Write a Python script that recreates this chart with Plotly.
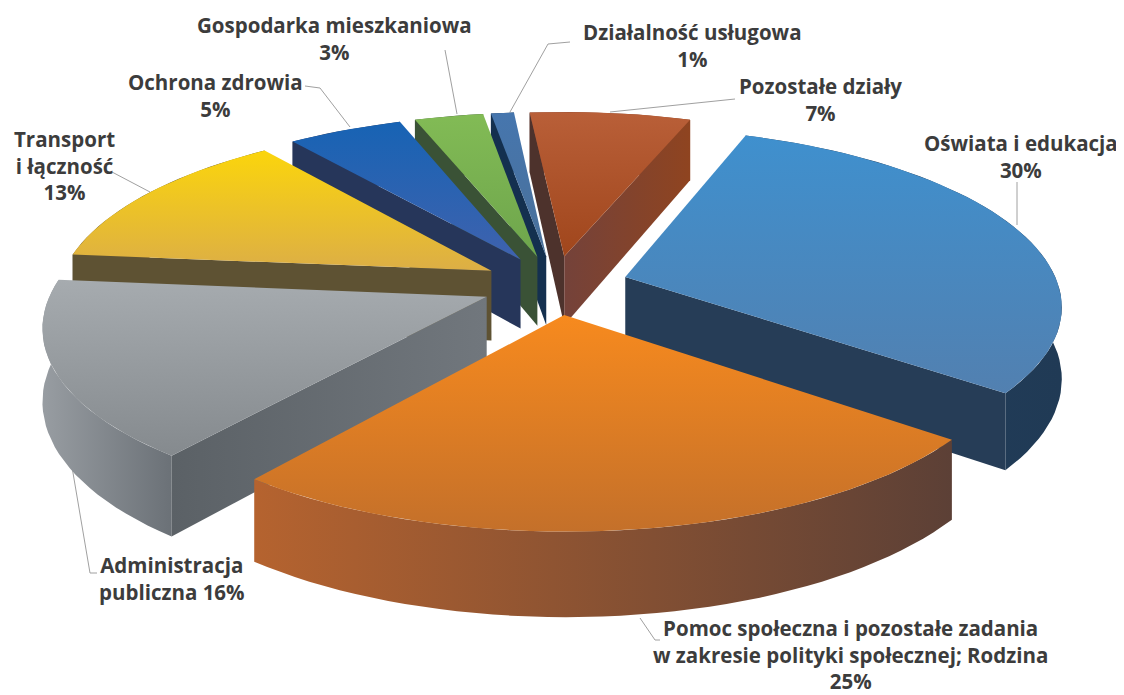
import math
import plotly.graph_objects as go

categories = ["Oświata i edukacja", "Pomoc społeczna i pozostałe zadania w zakresie polityki społecznej; Rodzina",
              "Administracja publiczna", "Transport i łączność",
              "Ochrona zdrowia", "Gospodarka mieszkaniowa", "Działalność usługowa", "Pozostałe działy"]
values = [30, 25, 16, 13, 5, 3, 1, 7]

# View of the pie: start angle, slice offset, thickness and projection
START = 20.0
PULL = 0.17
H = 0.17
CX, CY = 555, 285
BX, AY, CZ, KD = 433, 174, 415, 0.15

# Colours: top face (far -> near), outer wall (left -> right), first cut, second cut
top_c = [("#3f90ce", "#5280b0"), ("#f78a1e", "#c4702a"), ("#a6abaf", "#858a8e"), ("#fbd50c", "#dcae46"),
         ("#1763b4", "#3f62ae"), ("#82bb55", "#6ea54c"), ("#4676ae", "#4a7099"), ("#b95f38", "#a0461c")]
wall_c = [("#23405e", "#203a55"), ("#b5632f", "#5c4036"), ("#989da2", "#6b7177"), ("#5e5233", "#5e5233"),
          ("#26365a", "#26365a"), ("#3a5236", "#3a5236"), ("#14304f", "#14304f"), ("#74423a", "#8f4420")]
cut_a = ["#1f3a55", "#6a4a3a", ("#5b6166", "#71777d"), "#5e5233", "#26365a", "#3a5236", "#14304f", "#4d322c"]
cut_b = ["#263d57", "#c46a20", "#8a8f94", "#6a5a30", "#2a3f6b", "#3a5a35", "#2c4a70", ("#74423a", "#8f4420")]

def project(x, y, z):
    q = 1 + KD * y
    return CX + BX * x / q, CY - (AY * y + CZ * z) / q

def grad(c, kind):
    if isinstance(c, str):
        c = (c, c)
    if kind == "vertical":
        c = c[::-1]
    return dict(type=kind, colorscale=[[0, c[0]], [1, c[1]]])

def face(pts, c, kind, name):
    xs = [p[0] for p in pts] + [pts[0][0]]
    ys = [p[1] for p in pts] + [pts[0][1]]
    return go.Scatter(x=xs, y=ys, mode="lines", fill="toself", line=dict(width=0), fillgradient=grad(c, kind),
                      name=name, hoverinfo="name", showlegend=False)

def area(pts):
    return sum(pts[k][0] * pts[(k + 1) % len(pts)][1] - pts[(k + 1) % len(pts)][0] * pts[k][1] for k in range(len(pts))) / 2

def wedge(a0, a1, i):
    mid = math.radians((a0 + a1) / 2)
    ox, oy = PULL * math.sin(mid), PULL * math.cos(mid)
    n = max(4, int((a1 - a0) / 2))
    angs = [math.radians(a0 + (a1 - a0) * k / n) for k in range(n + 1)]
    rim = [(ox + math.sin(t), oy + math.cos(t)) for t in angs]
    up = [project(x, y, 0) for x, y in rim]
    dn = [project(x, y, -H) for x, y in rim]
    c_up, c_dn = project(ox, oy, 0), project(ox, oy, -H)
    name = categories[i]
    out = [face(up + dn[::-1], wall_c[i], "horizontal", name)]
    first = [c_up, up[0], dn[0], c_dn]
    second = [c_up, up[-1], dn[-1], c_dn]
    # only the cut faces that turn towards the viewer are drawn
    if area(first) < 0:
        out.append(face(first, cut_a[i], "horizontal", name))
    if area(second) > 0:
        out.append(face(second, cut_b[i], "horizontal", name))
    out.append(face([c_up] + up, top_c[i], "vertical", name))
    return out

leaders = [
    [(1017, 182), (1017, 225)],
    [(640, 618), (655, 640), (660, 640)],
    [(72, 467), (90, 573), (97, 573)],
    [(112, 172), (150, 192)],
    [(305, 86), (320, 88), (350, 127)],
    [(445, 50), (457, 114)],
    [(570, 42), (548, 44), (510, 112)],
    [(735, 99), (610, 112)],
]
labels = [
    ("Oświata i edukacja<br>30%", 1021, 156),
    ("Pomoc społeczna i pozostałe zadania<br>w zakresie polityki społecznej; Rodzina<br>25%", 850, 654),
    ("Administracja<br>publiczna 16%", 172, 578),
    ("Transport<br>i łączność<br>13%", 64, 165),
    ("Ochrona zdrowia<br>5%", 215, 95),
    ("Gospodarka mieszkaniowa<br>3%", 334, 38),
    ("Działalność usługowa<br>1%", 692, 45),
    ("Pozostałe działy<br>7%", 820, 99),
]

fig = go.Figure()
for pts in leaders:
    fig.add_trace(go.Scatter(x=[p[0] for p in pts], y=[p[1] for p in pts], mode="lines",
                             line=dict(color="#a0a0a0", width=1), hoverinfo="skip", showlegend=False))

wedges = []
a = START
for i, val in enumerate(values):
    span = val * 3.6
    wedges.append((math.cos(math.radians(a + span / 2)), a, a + span, i))
    a += span
for _, a0, a1, i in sorted(wedges, reverse=True):
    for tr in wedge(a0, a1, i):
        fig.add_trace(tr)

anns = [dict(text=t, x=x, y=y, xref="x", yref="y", showarrow=False, xanchor="center", yanchor="middle", align="center",
             font=dict(family="Open Sans", size=20.5, color="#3c3c3c", weight=700)) for t, x, y in labels]

fig.update_layout(
    width=1124, height=695, margin=dict(l=0, r=0, t=0, b=0), paper_bgcolor="white", plot_bgcolor="white",
    showlegend=False, annotations=anns,
    xaxis=dict(range=[8, 1132], visible=False, fixedrange=True),
    yaxis=dict(range=[703, 8], visible=False, fixedrange=True),
)
fig.write_html("out.html")
